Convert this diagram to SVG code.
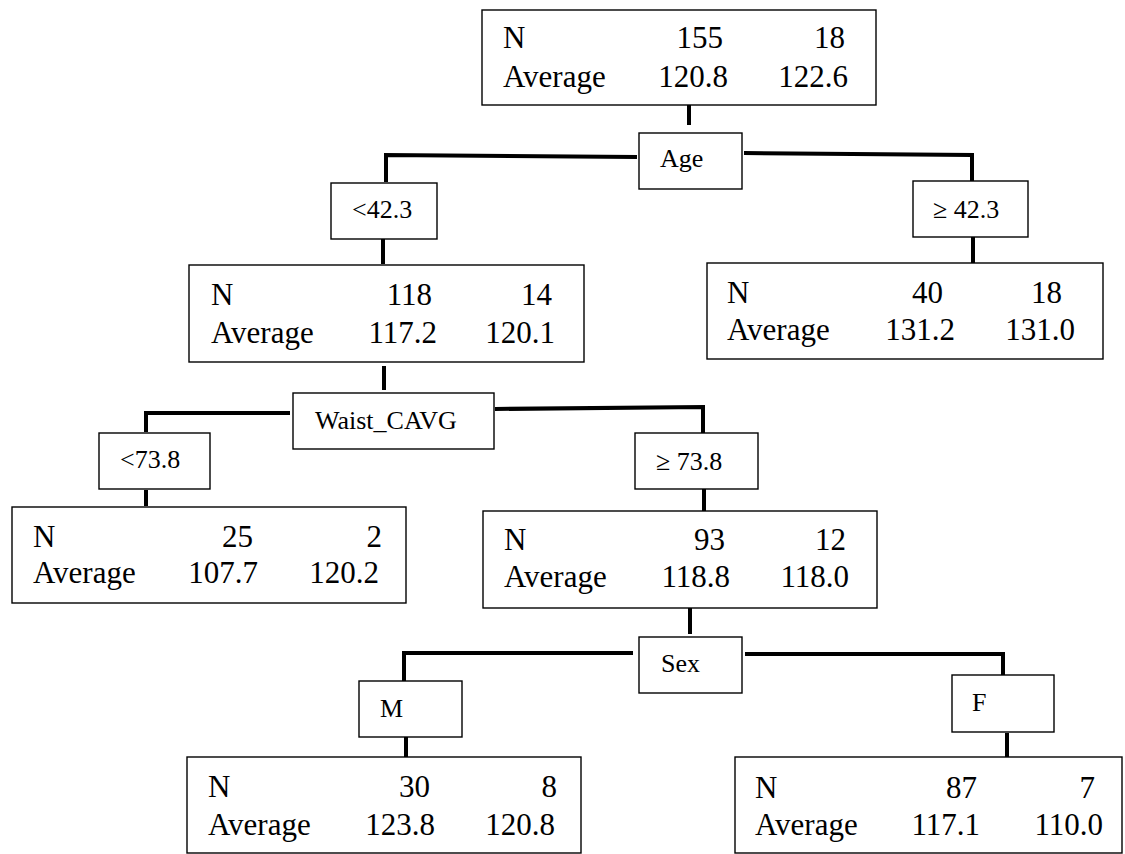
<svg xmlns="http://www.w3.org/2000/svg" width="1125" height="854" viewBox="0 0 1125 854" font-family="'Liberation Serif', 'Times New Roman', Times, serif">
<style>
rect.b{fill:#fff;stroke:#000;stroke-width:1.4}
text{fill:#000}
.t{font-size:31px}
.l{font-size:26px}
.e{text-anchor:end}
#connectors path{fill:none;stroke:#000;stroke-width:4;stroke-linejoin:miter}
</style>
<rect width="1125" height="854" fill="#fff"/>
<g id="connectors">
<path d="M689,105 L689,125"/>
<path d="M637,157 L386,155 L386,182"/>
<path d="M744,153 L972,155 L972,182"/>
<path d="M383,239 L383,264"/>
<path d="M973,237 L973,263"/>
<path d="M384,366 L384,390"/>
<path d="M290,413 L146,413 L146,432"/>
<path d="M146,490 L146,506"/>
<path d="M495,409 L703,407 L703,433"/>
<path d="M704,489 L704,511"/>
<path d="M690,608 L690,634"/>
<path d="M633,653 L404,653 L404,681"/>
<path d="M406,737 L406,757"/>
<path d="M745,654 L1003,654 L1003,675"/>
<path d="M1007,733 L1007,757"/>
</g>
<g id="root">
<rect class="b" x="482" y="10" width="394" height="95"/>
<text class="t" x="503" y="48">N</text>
<text class="t" x="503" y="87">Average</text>
<text class="t e" x="723" y="48">155</text>
<text class="t e" x="728" y="87">120.8</text>
<text class="t e" x="845" y="48">18</text>
<text class="t e" x="848" y="87">122.6</text>
</g>
<g id="split-age">
<rect class="b" x="639" y="133" width="103" height="56"/>
<text class="l" x="660" y="167">Age</text>
</g>
<g id="lbl-age-lt">
<rect class="b" x="331" y="183" width="106" height="56"/>
<text class="l" x="352" y="218">&lt;42.3</text>
</g>
<g id="lbl-age-ge">
<rect class="b" x="913" y="181" width="115" height="56"/>
<text class="l" x="933" y="218">≥ 42.3</text>
</g>
<g id="node-118">
<rect class="b" x="189" y="265" width="395" height="97"/>
<text class="t" x="211" y="305">N</text>
<text class="t" x="211" y="343">Average</text>
<text class="t e" x="432" y="305">118</text>
<text class="t e" x="437" y="343">117.2</text>
<text class="t e" x="552" y="305">14</text>
<text class="t e" x="555" y="343">120.1</text>
</g>
<g id="node-40">
<rect class="b" x="707" y="263" width="396" height="96"/>
<text class="t" x="727" y="303">N</text>
<text class="t" x="727" y="340">Average</text>
<text class="t e" x="943" y="303">40</text>
<text class="t e" x="955" y="340">131.2</text>
<text class="t e" x="1062" y="303">18</text>
<text class="t e" x="1075" y="340">131.0</text>
</g>
<g id="split-waist">
<rect class="b" x="293" y="393" width="201" height="56"/>
<text class="l" x="315" y="429">Waist_CAVG</text>
</g>
<g id="lbl-waist-lt">
<rect class="b" x="99" y="433" width="111" height="56"/>
<text class="l" x="120" y="468">&lt;73.8</text>
</g>
<g id="lbl-waist-ge">
<rect class="b" x="635" y="433" width="123" height="56"/>
<text class="l" x="656" y="470">≥ 73.8</text>
</g>
<g id="node-25">
<rect class="b" x="12" y="507" width="394" height="96"/>
<text class="t" x="33" y="547">N</text>
<text class="t" x="33" y="583">Average</text>
<text class="t e" x="253" y="547">25</text>
<text class="t e" x="258" y="583">107.7</text>
<text class="t e" x="382" y="547">2</text>
<text class="t e" x="379" y="583">120.2</text>
</g>
<g id="node-93">
<rect class="b" x="483" y="511" width="394" height="97"/>
<text class="t" x="504" y="550">N</text>
<text class="t" x="504" y="587">Average</text>
<text class="t e" x="725" y="550">93</text>
<text class="t e" x="730" y="587">118.8</text>
<text class="t e" x="846" y="550">12</text>
<text class="t e" x="849" y="587">118.0</text>
</g>
<g id="split-sex">
<rect class="b" x="639" y="637" width="103" height="56"/>
<text class="l" x="661" y="672">Sex</text>
</g>
<g id="lbl-sex-m">
<rect class="b" x="359" y="681" width="103" height="56"/>
<text class="l" x="380" y="717">M</text>
</g>
<g id="lbl-sex-f">
<rect class="b" x="952" y="675" width="102" height="57"/>
<text class="l" x="972" y="711">F</text>
</g>
<g id="node-30">
<rect class="b" x="187" y="757" width="394" height="96"/>
<text class="t" x="208" y="797">N</text>
<text class="t" x="208" y="835">Average</text>
<text class="t e" x="430" y="797">30</text>
<text class="t e" x="435" y="835">123.8</text>
<text class="t e" x="557" y="797">8</text>
<text class="t e" x="555" y="835">120.8</text>
</g>
<g id="node-87">
<rect class="b" x="735" y="757" width="387" height="96"/>
<text class="t" x="755" y="798">N</text>
<text class="t" x="755" y="835">Average</text>
<text class="t e" x="977" y="798">87</text>
<text class="t e" x="980" y="835">117.1</text>
<text class="t e" x="1095" y="798">7</text>
<text class="t e" x="1103" y="835">110.0</text>
</g>
</svg>
